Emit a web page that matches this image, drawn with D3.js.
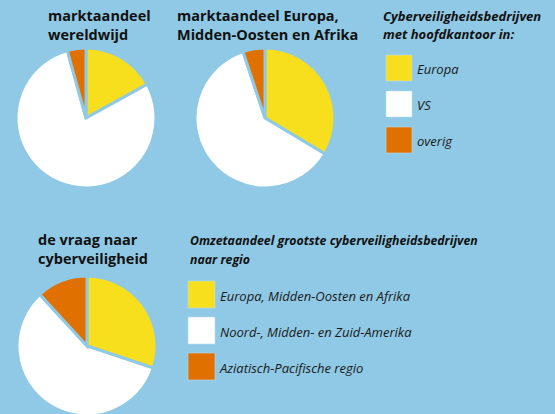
<!DOCTYPE html>
<html>
<head>
<meta charset="utf-8">
<script src="https://cdn.jsdelivr.net/npm/d3@7"></script>
<style>
  html, body { margin: 0; padding: 0; background: #8fc9e5; }
  svg { display: block; font-family: "Open Sans", "Noto Sans", sans-serif; }
</style>
</head>
<body>
<div id="chart"></div>
<script>
const width = 555, height = 414;
const bg = "#8fc9e5";

// slice order: Europa / EMEA, VS / Amerika, overig / APAC (clockwise from 12 o'clock)
const keys = ["europa", "vs", "overig"];
const wereldwijd = [17.0, 78.7, 4.3];
const emea = [33.6, 61.3, 5.1];
const vraag = [30.1, 58.1, 11.8];

const pieTitles = [
  ["marktaandeel", "wereldwijd"],
  ["marktaandeel Europa,", "Midden-Oosten en Afrika"],
  ["de vraag naar", "cyberveiligheid"]
];

const legend1Title = ["Cyberveiligheidsbedrijven", "met hoofdkantoor in:"];
const legend1Labels = ["Europa", "VS", "overig"];
const legend2Title = ["Omzetaandeel grootste cyberveiligheidsbedrijven", "naar regio"];
const legend2Labels = ["Europa, Midden-Oosten en Afrika", "Noord-, Midden- en Zuid-Amerika", "Aziatisch-Pacifische regio"];

const color = d3.scaleOrdinal()
  .domain(keys)
  .range(["#f7df1e", "#ffffff", "#e07000"]);

const svg = d3.select("#chart")
  .append("svg")
  .attr("width", width)
  .attr("height", height);

svg.append("rect")
  .attr("width", width)
  .attr("height", height)
  .attr("fill", bg);

const pie = d3.pie().sort(null);
const arc = d3.arc().innerRadius(0).outerRadius(70);

function drawPie(values, cx, cy) {
  const g = svg.append("g").attr("transform", "translate(" + cx + "," + cy + ")");
  g.selectAll("path")
    .data(pie(values))
    .enter().append("path")
    .attr("d", arc)
    .attr("fill", (d, i) => color(keys[i]))
    .attr("stroke", bg)
    .attr("stroke-width", 3)
    .attr("stroke-linejoin", "miter");
}

function drawTitle(lines, x, y, opts) {
  const t = svg.append("text")
    .attr("x", x)
    .attr("y", y)
    .attr("fill", "#111")
    .attr("font-size", opts.size)
    .attr("font-weight", "bold")
    .attr("font-style", opts.italic ? "italic" : "normal");
  lines.forEach((l, i) => {
    t.append("tspan").attr("x", x).attr("dy", i === 0 ? 0 : opts.lh).text(l);
  });
}

function drawLegend(labels, x, y, size, step) {
  const g = svg.append("g").attr("transform", "translate(" + x + "," + y + ")");
  const item = g.selectAll("g")
    .data(labels)
    .enter().append("g")
    .attr("transform", (d, i) => "translate(0," + i * step + ")");
  item.append("rect")
    .attr("width", size)
    .attr("height", size)
    .attr("fill", (d, i) => color(keys[i]))
    .attr("stroke", "#b9def0")
    .attr("stroke-width", 0.6);
  item.append("text")
    .attr("x", size + 5)
    .attr("y", size / 2 + 6)
    .attr("font-size", 13)
    .attr("font-style", "italic")
    .attr("fill", "#1a1a1a")
    .text(d => d);
}

drawPie(wereldwijd, 86, 118);
drawPie(emea, 265, 118);
drawPie(vraag, 87, 346);

drawTitle(pieTitles[0], 48, 21, {size: 14.5, lh: 19});
drawTitle(pieTitles[1], 177, 21, {size: 14.5, lh: 19});
drawTitle(pieTitles[2], 38, 245, {size: 14.5, lh: 19});

drawTitle(legend1Title, 383, 21, {size: 13, lh: 18, italic: true});
drawTitle(legend2Title, 190, 245, {size: 12.3, lh: 19, italic: true});

drawLegend(legend1Labels, 386, 55, 26, 36);
drawLegend(legend2Labels, 188, 281, 27, 36);
</script>
</body>
</html>
